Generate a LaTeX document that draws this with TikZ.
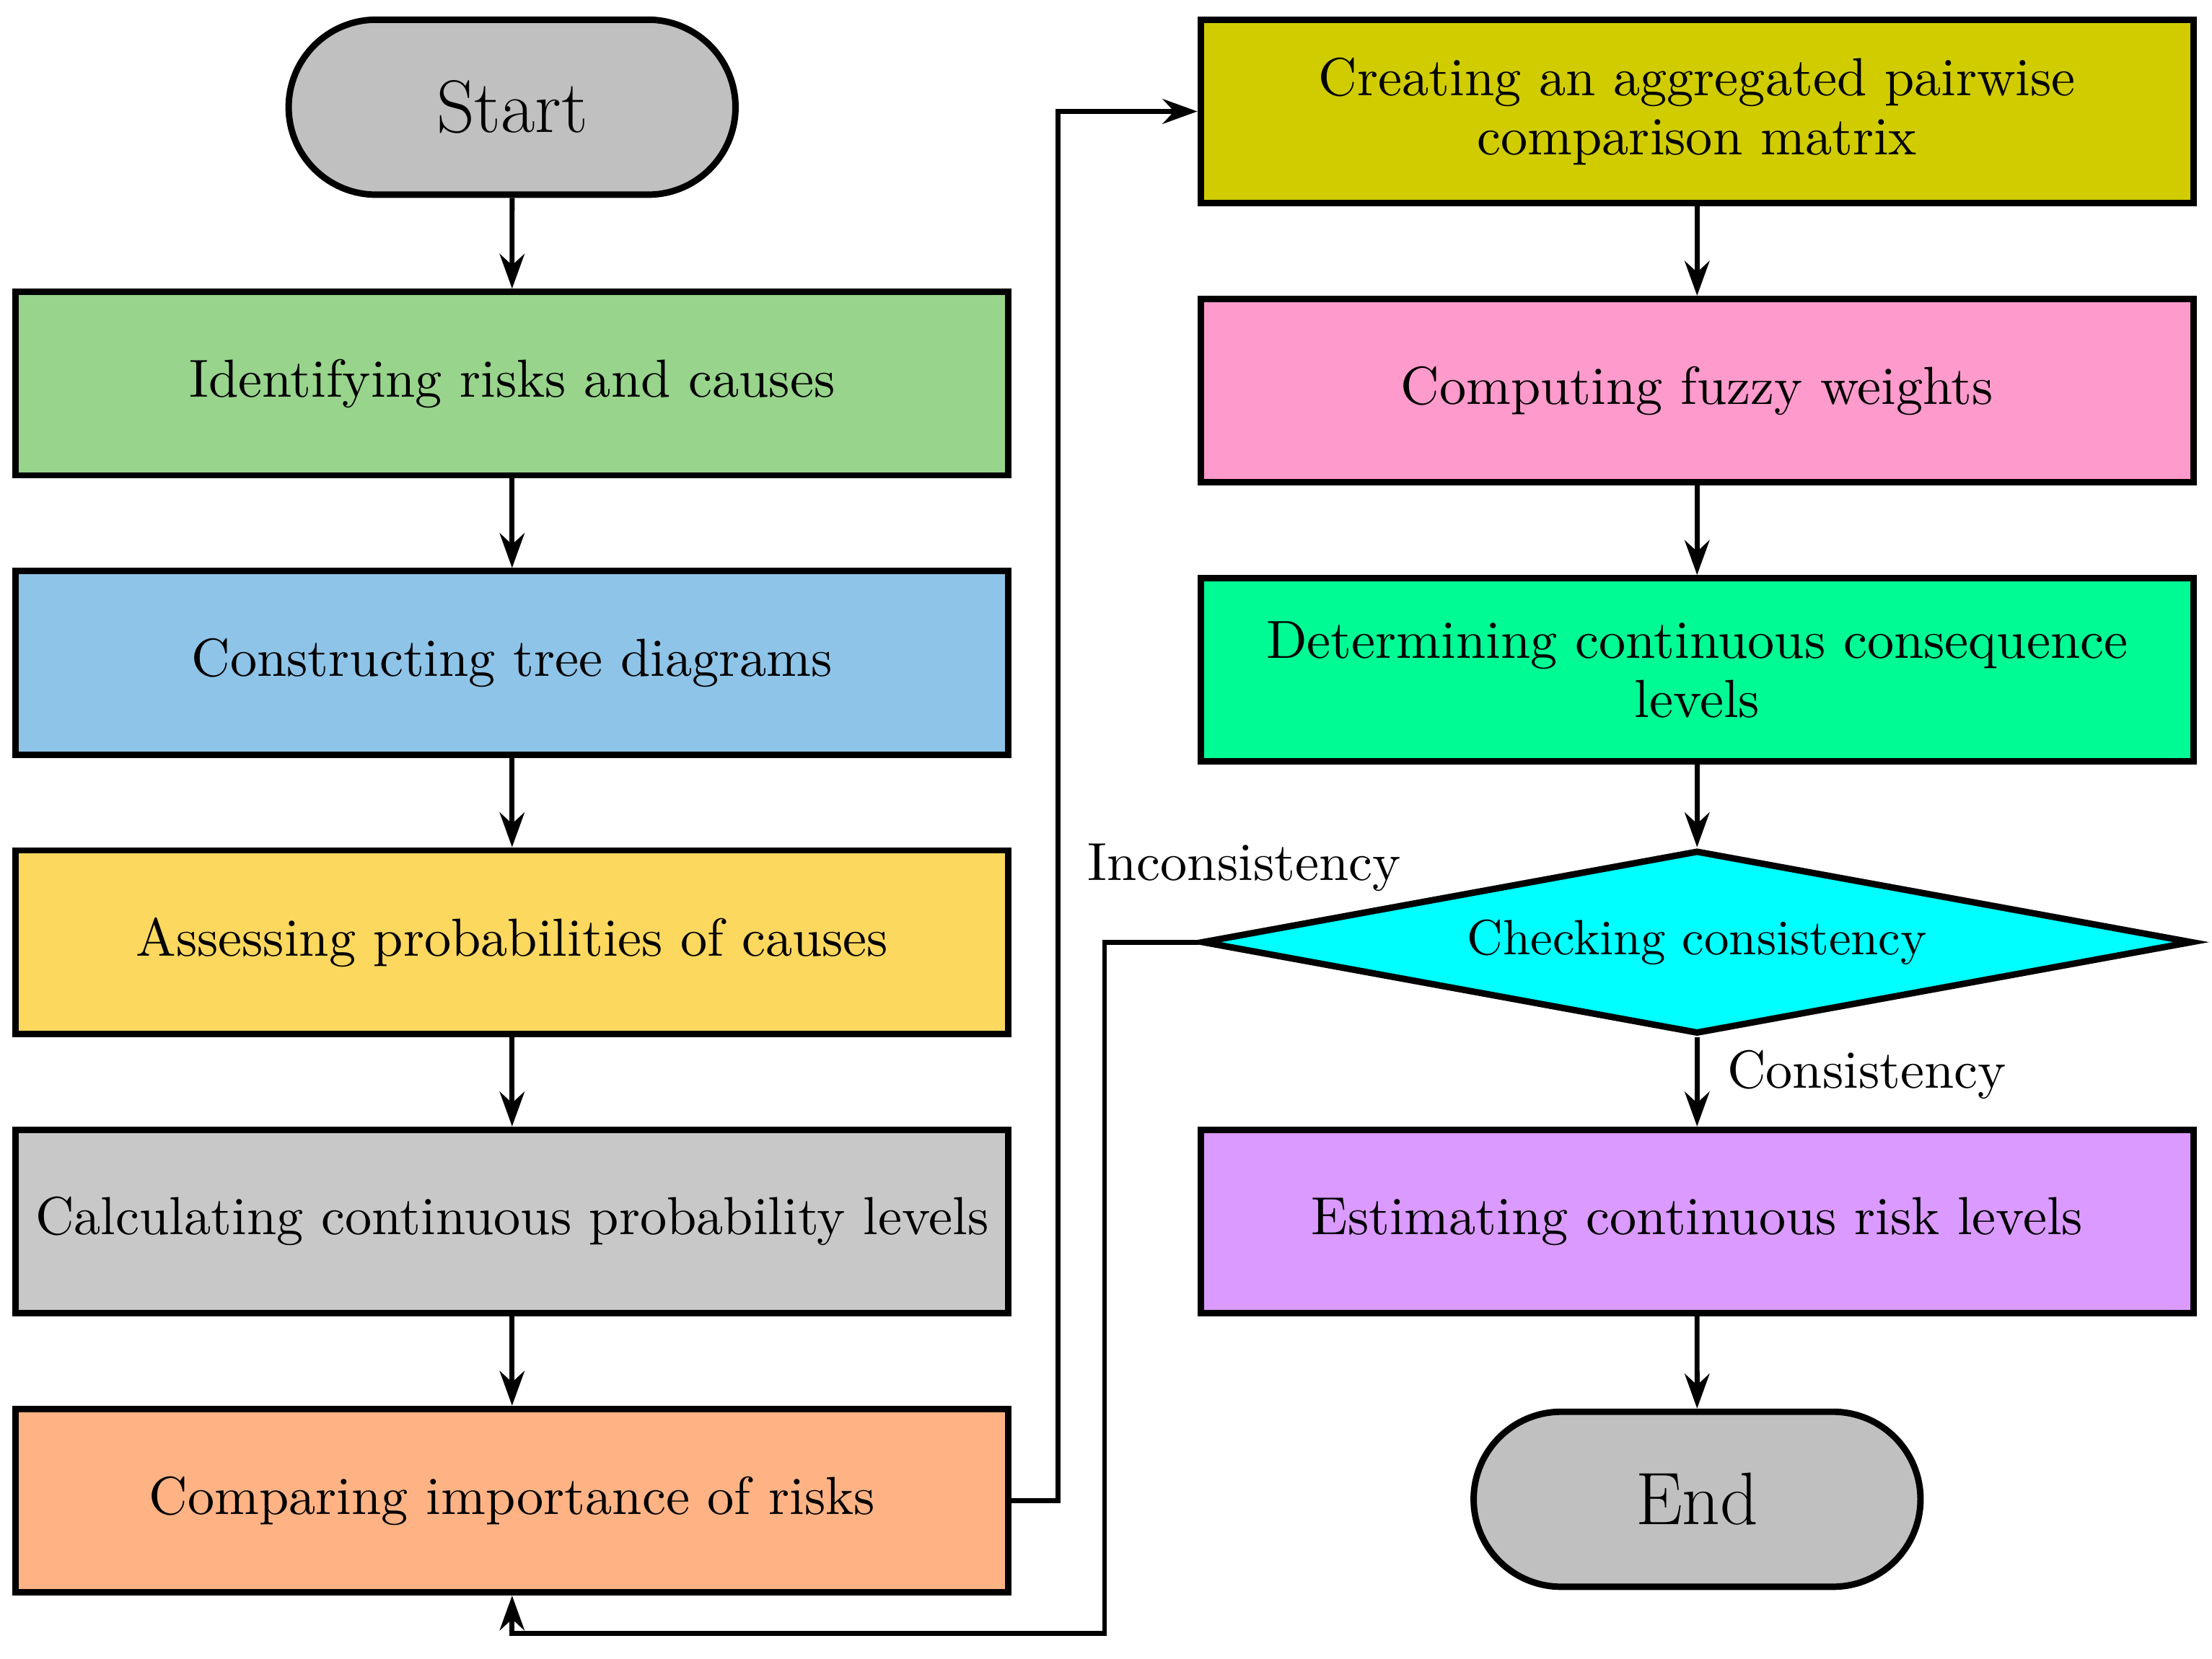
\documentclass[tikz,border=0pt]{standalone}
\usetikzlibrary{shapes.geometric,shapes.misc,arrows.meta}
\begin{document}
\begin{tikzpicture}[x=0.01cm,y=-0.01cm,
  box/.style={draw,line width=1.3pt,minimum width=7cm,minimum height=1.3cm,align=center,text width=6.8cm,font=\fontsize{10.8}{12}\selectfont},
  term/.style={draw,line width=1.3pt,rounded rectangle,minimum width=3.4cm,minimum height=1.24cm,font=\fontsize{15}{16}\selectfont},
  arr/.style={line width=1pt,-{Stealth[length=7pt,width=5pt]}},
  lab/.style={font=\fontsize{10.8}{12}\selectfont}]
\useasboundingbox (0,0) rectangle (1568,1176);
\definecolor{cg}{HTML}{98D48C}\definecolor{cb}{HTML}{8EC4E8}\definecolor{cy}{HTML}{FDD85E}
\definecolor{cgr}{HTML}{C8C8C8}\definecolor{co}{HTML}{FFB384}\definecolor{col}{HTML}{D0CC00}
\definecolor{cp}{HTML}{FF9ACC}\definecolor{cgn}{HTML}{00FA94}\definecolor{cv}{HTML}{DA9AFF}
\definecolor{cst}{HTML}{C0C0C0}\definecolor{ccy}{HTML}{00FFFF}
\node[term,fill=cst] (start) at (363,76) {Start};
\node[box,fill=cg] (b1) at (363,272) {Identifying risks and causes};
\node[box,fill=cb] (b2) at (363,470) {Constructing tree diagrams};
\node[box,fill=cy] (b3) at (363,668) {Assessing probabilities of causes};
\node[box,fill=cgr] (b4) at (363,866) {Calculating continuous probability levels};
\node[box,fill=co] (b5) at (363,1064) {Comparing importance of risks};
\node[box,fill=col] (ra) at (1203,79) {Creating an aggregated pairwise\\comparison matrix};
\node[box,fill=cp] (rb) at (1203,277) {Computing fuzzy weights};
\node[box,fill=cgn] (rc) at (1203,475) {Determining continuous consequence\\levels};
\node[diamond,draw,line width=1.3pt,fill=ccy,aspect=5.4,minimum width=7.02cm,minimum height=1.3cm,inner sep=0pt,font=\fontsize{10}{12}\selectfont] (dia) at (1203,668) {Checking consistency};
\node[box,fill=cv] (rd) at (1203,866) {Estimating continuous risk levels};
\node[term,fill=cst] (end) at (1203,1063) {End};
\draw[arr] (start) -- (b1);
\draw[arr] (b1) -- (b2);
\draw[arr] (b2) -- (b3);
\draw[arr] (b3) -- (b4);
\draw[arr] (b4) -- (b5);
\coordinate (p1) at (750,1064); \coordinate (p2) at (750,79);
\draw[arr] (b5.east) -- (p1) -- (p2) -- (ra.west);
\draw[arr] (ra) -- (rb);
\draw[arr] (rb) -- (rc);
\draw[arr] (rc) -- (dia);
\draw[arr] (dia) -- (rd);
\draw[arr] (rd) -- (end);
\coordinate (q1) at (783,668); \coordinate (q2) at (783,1158); \coordinate (q3) at (363,1158);
\draw[arr] (dia.west) -- (q1) -- (q2) -- (q3) -- (b5.south);
\node[lab] (inc) at (882,615) {Inconsistency};
\node[lab,anchor=west] (con) at (1212,762) {Consistency};
\end{tikzpicture}
\end{document}
